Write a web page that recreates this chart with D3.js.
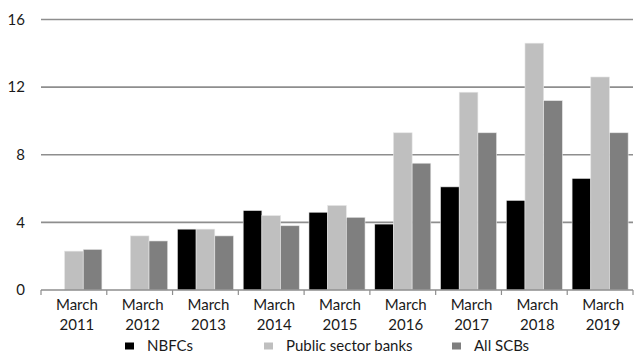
<!DOCTYPE html>
<html>
<head>
<meta charset="utf-8">
<script src="https://cdn.jsdelivr.net/npm/d3@7"></script>
<style>
  html, body { margin: 0; padding: 0; background: #fff; }
  svg { display: block; }
  text { font-family: Lato, "Open Sans", sans-serif; fill: #1a1a1a; }
</style>
</head>
<body>
<svg id="chart" width="642" height="355"></svg>
<script>
// Gross NPA ratio by lender type, end-March
const categories = ["2011", "2012", "2013", "2014", "2015", "2016", "2017", "2018", "2019"];
const seriesNames = ["NBFCs", "Public sector banks", "All SCBs"];
const nbfcs       = [null, null, 3.6, 4.7, 4.6, 3.9, 6.1, 5.3, 6.6];
const publicBanks = [2.3, 3.2, 3.6, 4.4, 5.0, 9.3, 11.7, 14.6, 12.6];
const allScbs     = [2.4, 2.9, 3.2, 3.8, 4.3, 7.5, 9.3, 11.2, 9.3];
const yTicks      = [0, 4, 8, 12, 16];
const colors      = ["#000000", "#bfbfbf", "#7f7f7f"];

const series = [nbfcs, publicBanks, allScbs];

const svg = d3.select("#chart");
const plotLeft = 41, plotRight = 633, plotTop = 19.5, plotBottom = 290;

const x = d3.scaleBand().domain(categories).range([plotLeft, plotRight]).paddingInner(0).paddingOuter(0);
const xi = d3.scaleBand().domain(d3.range(series.length)).range([0, x.bandwidth()])
  .paddingInner(0).paddingOuter(0.26);
const y = d3.scaleLinear().domain([0, 16]).range([plotBottom, plotTop]);

// Horizontal gridlines
svg.append("g").selectAll("line")
  .data(yTicks.filter(d => d > 0))
  .join("line")
  .attr("x1", plotLeft).attr("x2", plotRight)
  .attr("y1", d => y(d)).attr("y2", d => y(d))
  .attr("stroke", "#8e8e8e").attr("stroke-width", 1.6);

// Y axis labels
const yAxis = d3.axisLeft(y).tickValues(yTicks).tickSize(0).tickPadding(0).tickFormat(d3.format("d"));
const gy = svg.append("g").attr("transform", `translate(25,0)`).call(yAxis);
gy.select(".domain").remove();
gy.selectAll("text").style("font-size", "15px").style("font-family", "Lato, sans-serif").attr("fill", "#1a1a1a");

// Bars
const groups = svg.append("g").selectAll("g")
  .data(categories)
  .join("g")
  .attr("transform", d => `translate(${x(d)},0)`);

groups.selectAll("rect")
  .data((d, i) => series.map((s, k) => ({ k, v: s[i] })).filter(e => e.v != null))
  .join("rect")
  .attr("x", e => xi(e.k))
  .attr("width", xi.bandwidth())
  .attr("y", e => y(e.v))
  .attr("height", e => y(0) - y(e.v))
  .attr("fill", e => colors[e.k])
  .attr("stroke", "#e6e6e6")
  .attr("stroke-width", 0.6);

// X axis baseline with boundary ticks
const gx = svg.append("g");
gx.append("line").attr("x1", plotLeft).attr("x2", plotRight)
  .attr("y1", plotBottom).attr("y2", plotBottom)
  .attr("stroke", "#8e8e8e").attr("stroke-width", 1.6);
gx.selectAll("line.tick")
  .data(categories.concat(["end"]))
  .join("line").attr("class", "tick")
  .attr("x1", (d, i) => plotLeft + i * x.bandwidth())
  .attr("x2", (d, i) => plotLeft + i * x.bandwidth())
  .attr("y1", plotBottom).attr("y2", plotBottom + 5)
  .attr("stroke", "#8e8e8e").attr("stroke-width", 1.2);

const lbl = gx.selectAll("text.cat")
  .data(categories)
  .join("text").attr("class", "cat")
  .attr("text-anchor", "middle")
  .style("font-size", "15px")
  .attr("transform", d => `translate(${x(d) + x.bandwidth() / 2 + 3},0)`);
lbl.append("tspan").attr("x", 0).attr("y", 309.5).text("March");
lbl.append("tspan").attr("x", 0).attr("y", 329.5).text(d => d);

// Legend
const legendX = [125, 264, 452];
const lg = svg.append("g").selectAll("g")
  .data(seriesNames)
  .join("g")
  .attr("transform", (d, i) => `translate(${legendX[i]},0)`);
lg.append("rect").attr("x", 0).attr("y", 342.5).attr("width", 9).attr("height", 7)
  .attr("fill", (d, i) => colors[i]);
lg.append("text").attr("x", 22).attr("y", 351)
  .style("font-size", "15px").text(d => d);
</script>
</body>
</html>
